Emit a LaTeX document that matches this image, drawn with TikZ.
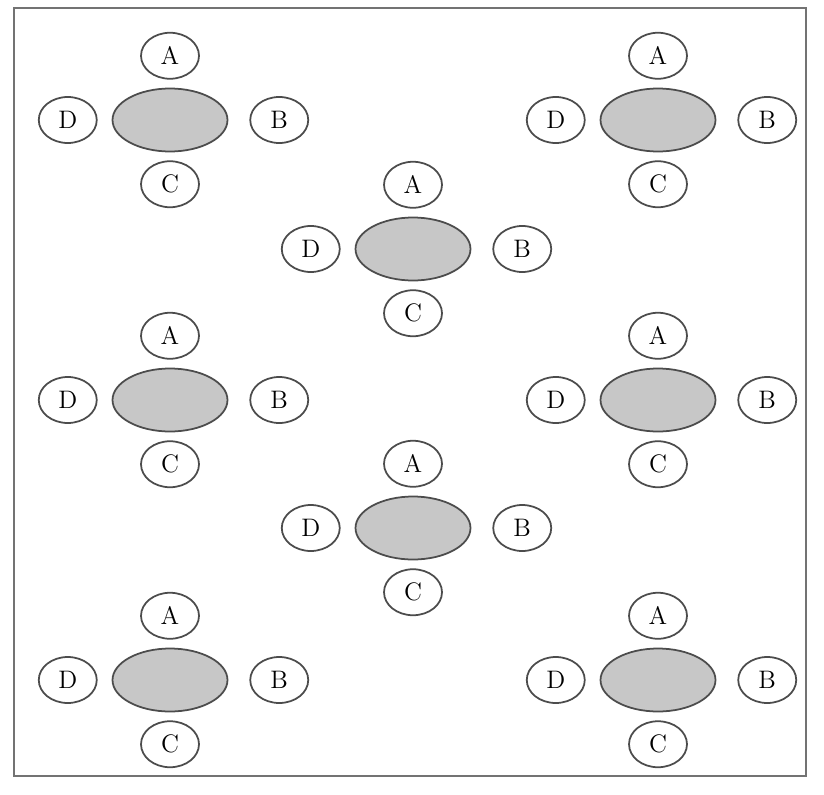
\documentclass[tikz,border=0pt]{standalone}
\usepackage{tikz}
\usetikzlibrary{positioning,shapes.geometric}

\tikzset{
  tablebox/.style={ellipse,draw=black!70,line width=1pt,fill=black!22,
    minimum width=2.3cm,minimum height=1.26cm,inner sep=0pt},
  seat/.style={ellipse,draw=black!70,line width=1pt,fill=white,
    minimum width=1.16cm,minimum height=0.92cm,inner sep=0pt,font=\Large}
}

\begin{document}
\begin{tikzpicture}[x=0.02cm,y=-0.02cm]
  \useasboundingbox (0,0) rectangle (824,794);
  \draw[black!55,line width=0.9pt] (14,8) rectangle (806,776);
  % one table with four seats round it
  \foreach \i/\x/\y in {1/170/120,2/658/120,3/413/249,4/170/400,
                        5/658/400,6/413/528,7/170/680,8/658/680}{
    \node[tablebox] (t\i) at (\x,\y) {};
    \node[seat,above=0.16cm of t\i] (a\i) {A};
    \node[seat,below=0.16cm of t\i] (c\i) {C};
    \node[seat,right=0.42cm of t\i] (b\i) {B};
    \node[seat,left=0.28cm of t\i] (d\i) {D};
  }
\end{tikzpicture}
\end{document}
